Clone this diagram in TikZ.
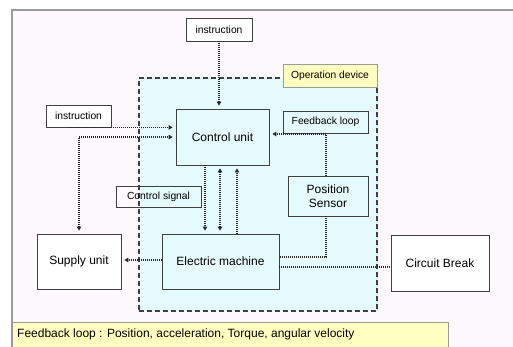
\documentclass[tikz,border=0pt]{standalone}
\usepackage{fontspec}
\setmainfont{Liberation Sans}
\usetikzlibrary{arrows.meta,calc}
\definecolor{frameg}{HTML}{9A9A9A}
\definecolor{pagebg}{HTML}{FDF9FD}
\definecolor{cyanbg}{HTML}{E6FBFB}
\definecolor{yel}{HTML}{FFFFC0}
\definecolor{boxline}{HTML}{404040}
\tikzset{
  box/.style={draw=boxline, line width=0.8pt, inner sep=0pt, align=center, font=\fontsize{12}{14}\selectfont},
  smallbox/.style={box, font=\fontsize{10.3}{12}\selectfont},
  dotline/.style={line width=1.1pt, dash pattern=on 1pt off 1pt, draw=black!85},
  arr/.style={dotline, -{Triangle[length=4pt,width=4.5pt]}, shorten >=3pt},
  arrboth/.style={dotline, {Triangle[length=4pt,width=4.5pt]}-{Triangle[length=4pt,width=4.5pt]}, shorten >=3pt, shorten <=3pt},
}
\begin{document}
\begin{tikzpicture}[x=1pt,y=-1pt]
\useasboundingbox (0,0) rectangle (513,347);
\fill[white] (0,0) rectangle (513,347);
\fill[pagebg] (12,10) rectangle (513,347);
\draw[frameg, line width=1.8pt] (12,347) -- (12,10) -- (513,10);
% operation device region
\node[draw=boxline, fill=cyanbg, line width=1.2pt, dash pattern=on 5pt off 3pt, minimum width=238pt, minimum height=233pt, inner sep=0pt] (opbox) at (258,194.5) {};
\node[box, fill=yel, draw=frameg, minimum width=94pt, minimum height=23pt, font=\fontsize{10.3}{12}\selectfont] (opdev) at (330,75.5) {Operation device};
% nodes
\node[smallbox, fill=white, minimum width=66pt, minimum height=23pt] (topinst) at (219,29.5) {instruction};
\node[smallbox, fill=white, minimum width=65pt, minimum height=22pt] (leftinst) at (78.5,116) {instruction};
\node[box, minimum width=93pt, minimum height=56pt] (cu) at (222.5,137) {Control unit};
\node[smallbox, minimum width=85pt, minimum height=22pt] (fb) at (325.5,122) {Feedback loop};
\node[box, minimum width=80pt, minimum height=40pt] (ps) at (328,196) {Position\\Sensor};
\node[smallbox, minimum width=85pt, minimum height=21pt] (cs) at (158.5,196.5) {Control signal};
\node[box, fill=white, minimum width=84pt, minimum height=55pt] (su) at (79,261.5) {Supply unit};
\node[box, minimum width=117pt, minimum height=55pt] (em) at (220.5,261.5) {Electric machine};
\node[box, fill=white, minimum width=98pt, minimum height=56pt] (cb) at (440,263) {Circuit Break};
\node[draw=frameg, fill=yel, line width=0.8pt, minimum width=436pt, minimum height=25pt, inner sep=0pt] (legend) at (230,334.5) {};
\node[anchor=west, font=\fontsize{12}{14}\selectfont, inner sep=0pt] (legtext) at (17,334) {Feedback loop : Position, acceleration, Torque, angular velocity};
% connectors
\draw[arr] (topinst.south) -- (topinst.south |- cu.north);
\draw[arr] ([xshift=-10pt]leftinst.south) -- ([yshift=0pt]leftinst.south -| cu.west);
\draw[arrboth] (su.north) |- (cu.west);
\draw[arr] ([xshift=-17.5pt]cu.south) -- ([xshift=-17.5pt]cu.south |- em.north);
\draw[arrboth] ([xshift=-2.5pt]cu.south) -- ([xshift=-2.5pt]cu.south |- em.north);
\draw[arr] ([xshift=14.5pt]cu.south |- em.north) -- ([xshift=14.5pt]cu.south);
\draw[arr] ([xshift=-2pt]ps.north) |- ([yshift=3pt]cu.east);
\draw[dotline] ([xshift=-2pt]ps.south) |- ([yshift=4.5pt]em.east);
\draw[dotline] ([yshift=-5.5pt]em.east) -- ([yshift=-5.5pt]em.east -| cb.west);
\draw[arr] ([yshift=1.5pt]em.west) -- ([yshift=1.5pt]em.west -| su.east);
\end{tikzpicture}
\end{document}
